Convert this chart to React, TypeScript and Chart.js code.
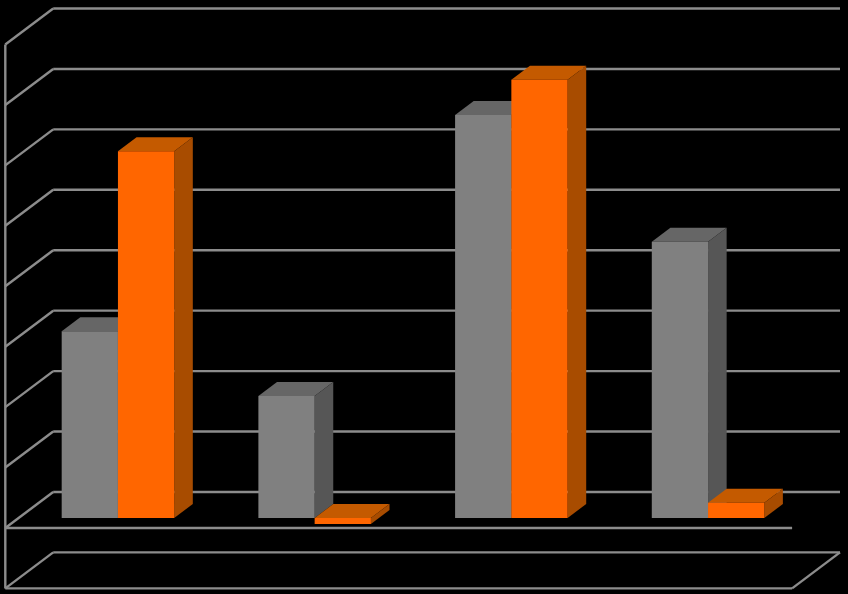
import React, { useEffect, useRef } from "react";
import { Chart, registerables } from "chart.js";

Chart.register(...registerables);

const categories = ["1", "2", "3", "4"];
const grayValues = [3.09, 2.02, 6.67, 4.57];
const orangeValues = [6.07, -0.1, 7.25, 0.25];
const gridValues = [-1, 0, 1, 2, 3, 4, 5, 6, 7, 8];

const GRID_COLOR = "#8c8c8c";
// offsets of the 3D box, relative to the plane the bars stand on
const WALL_FRONT = { x: -14.3, y: 10 };
const WALL_BACK = { x: 33.6, y: -26 };
const BAR_DEPTH = { x: 18.6, y: 14 };

const faceColors = [
  { top: "#666666", side: "#565656" },
  { top: "#c45a00", side: "#a84c00" },
];

function segment(ctx: CanvasRenderingContext2D, x1: number, y1: number, x2: number, y2: number) {
  ctx.beginPath();
  ctx.moveTo(x1, y1);
  ctx.lineTo(x2, y2);
  ctx.stroke();
}

function polygon(ctx: CanvasRenderingContext2D, points: number[][], color: string) {
  ctx.fillStyle = color;
  ctx.beginPath();
  points.forEach(([x, y], i) => (i === 0 ? ctx.moveTo(x, y) : ctx.lineTo(x, y)));
  ctx.closePath();
  ctx.fill();
}

function drawDepth(chart: any, index: number) {
  const ctx = chart.ctx;
  const colors = faceColors[index];
  chart.getDatasetMeta(index).data.forEach((bar: any) => {
    const { x, y, base, width } = bar.getProps(["x", "y", "base", "width"], true);
    const left = x - width / 2;
    const right = x + width / 2;
    const top = Math.min(y, base);
    const bottom = Math.max(y, base);
    polygon(
      ctx,
      [
        [left, top],
        [left + BAR_DEPTH.x, top - BAR_DEPTH.y],
        [right + BAR_DEPTH.x, top - BAR_DEPTH.y],
        [right, top],
      ],
      colors.top,
    );
    polygon(
      ctx,
      [
        [right, top],
        [right + BAR_DEPTH.x, top - BAR_DEPTH.y],
        [right + BAR_DEPTH.x, bottom - BAR_DEPTH.y],
        [right, bottom],
      ],
      colors.side,
    );
  });
}

const box3d = {
  id: "box3d",
  beforeDatasetsDraw(chart: any) {
    const { ctx, chartArea, scales } = chart;
    const yScale = scales.y;
    const frontLeft = chartArea.left + WALL_FRONT.x;
    const frontRight = chartArea.right + WALL_FRONT.x;
    const backLeft = chartArea.left + WALL_BACK.x;
    const backRight = chartArea.right + WALL_BACK.x;
    ctx.save();
    ctx.strokeStyle = GRID_COLOR;
    ctx.lineWidth = 2.4;
    gridValues.forEach((value) => {
      const py = yScale.getPixelForValue(value);
      segment(ctx, frontLeft, py + WALL_FRONT.y, backLeft, py + WALL_BACK.y);
      segment(ctx, backLeft, py + WALL_BACK.y, backRight, py + WALL_BACK.y);
    });
    const zero = yScale.getPixelForValue(0);
    const floor = yScale.getPixelForValue(-1);
    const ceiling = yScale.getPixelForValue(8);
    segment(ctx, frontLeft, ceiling + WALL_FRONT.y, frontLeft, floor + WALL_FRONT.y);
    segment(ctx, frontLeft, zero + WALL_FRONT.y, frontRight, zero + WALL_FRONT.y);
    segment(ctx, frontLeft, floor + WALL_FRONT.y, frontRight, floor + WALL_FRONT.y);
    segment(ctx, frontRight, floor + WALL_FRONT.y, backRight, floor + WALL_BACK.y);
    ctx.restore();
  },
  // left series has to be painted first so the right one overlaps its side face
  beforeDatasetDraw(chart: any, args: any) {
    if (args.index === 0) return false;
    drawDepth(chart, 0);
    chart.getDatasetMeta(0).controller.draw();
    drawDepth(chart, 1);
  },
};

export default function App() {
  const chartRef = useRef<HTMLCanvasElement>(null);

  useEffect(() => {
    if (!chartRef.current) return;
    const chart = new Chart(chartRef.current, {
      type: "bar",
      data: {
        labels: categories,
        datasets: [
          { data: grayValues, backgroundColor: "#808080" },
          { data: orangeValues, backgroundColor: "#ff6600" },
        ],
      },
      options: {
        responsive: false,
        animation: false,
        devicePixelRatio: 1,
        layout: { padding: { left: 19.6, right: 41.6, top: 34.5, bottom: 15.6 } },
        datasets: { bar: { barPercentage: 1, categoryPercentage: 0.572 } },
        plugins: { legend: { display: false }, tooltip: { enabled: false } },
        scales: {
          x: { display: false },
          y: { display: false, min: -1, max: 8 },
        },
      },
      plugins: [box3d],
    });
    return () => chart.destroy();
  }, []);

  return (
    <div style={{ position: "absolute", left: 0, top: 0, width: 848, height: 594, background: "#000" }}>
      <canvas ref={chartRef} width={848} height={594} style={{ display: "block" }} />
    </div>
  );
}
